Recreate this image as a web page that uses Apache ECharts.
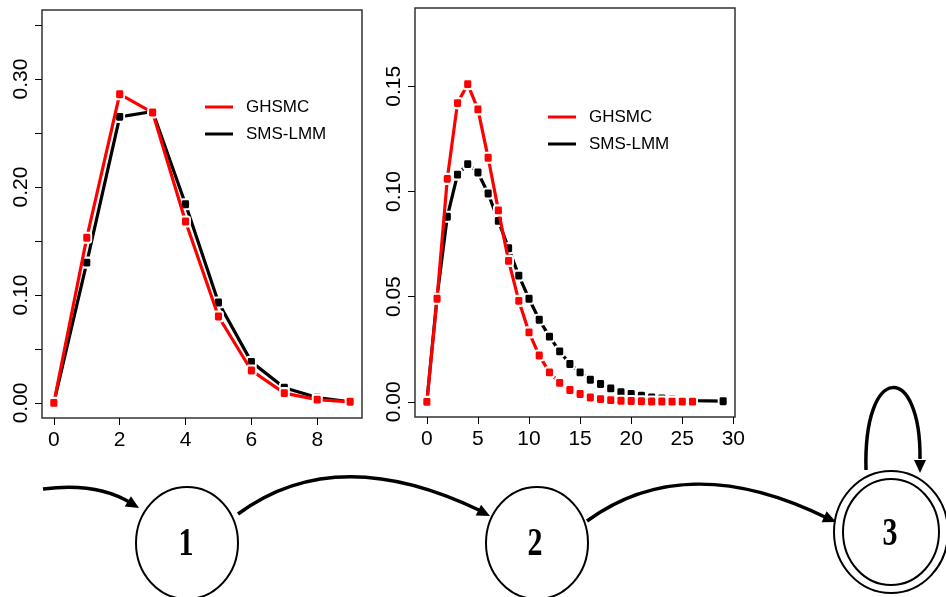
<!DOCTYPE html>
<html><head><meta charset="utf-8">
<script src="https://cdn.jsdelivr.net/npm/echarts@6/dist/echarts.min.js"></script>
<style>html,body{margin:0;padding:0;background:#fff}#c{width:946px;height:597px}</style>
</head><body><div id="c"></div>
<script>
// ---- data ----
const seriesNames = ['GHSMC', 'SMS-LMM'];
const leftX = [0, 1, 2, 3, 4, 5, 6, 7, 8, 9];
const leftGHSMC = [0.000, 0.153, 0.286, 0.269, 0.168, 0.080, 0.030, 0.009, 0.003, 0.001];
const leftSMSLMM = [0.000, 0.130, 0.265, 0.270, 0.184, 0.093, 0.038, 0.014, 0.005, 0.001];
const rightXGHSMC = [0,1,2,3,4,5,6,7,8,9,10,11,12,13,14,15,16,17,18,19,20,21,22,23,24,25,26];
const rightGHSMC = [0.000,0.049,0.106,0.142,0.151,0.139,0.116,0.091,0.067,0.048,0.033,0.022,0.014,0.009,0.0056,0.0037,0.0021,0.0013,0.0008,0.0005,0.0004,0.0003,0.0002,0.0002,0.0001,0.0001,0.0001];
const rightXSMSLMM = [0,1,2,3,4,5,6,7,8,9,10,11,12,13,14,15,16,17,18,19,20,21,22,23,24,25,26,29];
const rightSMSLMM = [0.000,0.050,0.088,0.108,0.113,0.109,0.099,0.086,0.073,0.060,0.049,0.039,0.031,0.024,0.018,0.014,0.0105,0.0085,0.0064,0.0046,0.0037,0.0029,0.0021,0.0016,0.0011,0.0008,0.0006,0.0003];
const leftXTicks = [0, 2, 4, 6, 8];
const leftYTicks = [0, 0.05, 0.10, 0.15, 0.20, 0.25, 0.30, 0.35];
const leftYLabels = [0, 0.10, 0.20, 0.30];
const rightXTicks = [0, 5, 10, 15, 20, 25, 30];
const rightYTicks = [0, 0.05, 0.10, 0.15];
const stateLabels = ['1', '2', '3'];

const FONT = "'Liberation Sans', Arial, sans-serif";
const RED = '#ff0000', BLACK = '#000000';

function xAxisDef(gi, min, max, ticks) {
  return {
    type: 'value', gridIndex: gi, min: min, max: max,
    axisLine: { show: false, onZero: false },
    splitLine: { show: false },
    axisTick: { show: true, length: 7, customValues: ticks, lineStyle: { color: '#000', width: 1 } },
    axisLabel: { customValues: ticks, margin: 12, color: '#000', fontSize: 21, fontFamily: FONT }
  };
}
function yAxisDef(gi, min, max, ticks, labels) {
  return {
    type: 'value', gridIndex: gi, min: min, max: max,
    axisLine: { show: false, onZero: false },
    splitLine: { show: false },
    axisTick: { show: true, length: 7, customValues: ticks, lineStyle: { color: '#000', width: 1 } },
    axisLabel: { customValues: labels, rotate: 90, margin: 10, color: '#000', fontSize: 21, fontFamily: FONT,
      formatter: v => Number(v).toFixed(2) }
  };
}
function lineSeries(name, color, xi, yi, xs, ys, z) {
  return {
    type: 'line', name: name, xAxisIndex: xi, yAxisIndex: yi, z: z,
    data: xs.map((x, i) => [x, ys[i]]),
    symbol: 'roundRect', symbolSize: [9, 10], showSymbol: true,
    lineStyle: { color: color, width: 3.2 },
    itemStyle: { color: color, borderColor: '#fff', borderWidth: 2 },
    animation: false
  };
}
function legendDef(left, top) {
  return {
    left: left, top: top, orient: 'vertical', data: seriesNames, icon: 'rect',
    itemWidth: 28, itemHeight: 3, itemGap: 5, selectedMode: false,
    itemStyle: { borderWidth: 0 },
    textStyle: { fontSize: 17, fontFamily: FONT, color: '#000', padding: [0, 0, 0, 8], lineHeight: 22 }
  };
}

// ---- diagram pieces ----
const LW = 3.5;
function arrowHead(tipX, tipY, dx, dy, len, half) {
  const n = Math.hypot(dx, dy); const ux = dx / n, uy = dy / n;
  const bx = tipX - ux * len, by = tipY - uy * len;
  return { type: 'polygon', shape: { points: [[tipX, tipY], [bx - uy * half, by + ux * half], [bx + uy * half, by - ux * half]] },
    style: { fill: '#000' }, z: 100 };
}
function curve(x1, y1, c1x, c1y, c2x, c2y, x2, y2) {
  return { type: 'bezierCurve', shape: { x1: x1, y1: y1, cpx1: c1x, cpy1: c1y, cpx2: c2x, cpy2: c2y, x2: x2, y2: y2 },
    style: { stroke: '#000', lineWidth: LW, fill: null }, z: 100 };
}
function ellipse(cx, cy, rx, ry, w) {
  return { type: 'ellipse', shape: { cx: cx, cy: cy, rx: rx, ry: ry }, style: { stroke: '#000', lineWidth: w, fill: null }, z: 100 };
}
function stateText(t, x, y) {
  return { type: 'text', x: x, y: y, scaleX: 0.75, z: 101,
    style: { text: t, font: "bold 40px 'Liberation Serif', 'Times New Roman', serif", fill: '#000', align: 'center', verticalAlign: 'middle' } };
}

const graphics = [
  ellipse(187, 543, 51, 56, 2),
  ellipse(537, 543, 51, 56, 2),
  ellipse(891, 532, 57, 61, 2),
  ellipse(891, 532, 48, 53, 2),
  stateText(stateLabels[0], 186, 545),
  stateText(stateLabels[1], 535, 545),
  stateText(stateLabels[2], 890, 535),
  curve(43, 489, 80, 484, 110, 490, 131, 503),
  arrowHead(139, 508, 1, 0.6, 13, 6),
  curve(238, 514, 300, 468, 380, 462, 481, 511),
  arrowHead(490, 516, 1, 0.5, 13, 6),
  curve(587, 521, 650, 475, 730, 470, 827, 518),
  arrowHead(836, 522, 1, 0.45, 13, 6),
  curve(866, 470, 863, 362, 921, 362, 920, 459),
  arrowHead(920, 473, 0, 1, 13, 6)
];

const chart = echarts.init(document.getElementById('c'), null, { renderer: 'canvas' });
chart.setOption({
  animation: false,
  backgroundColor: '#fff',
  grid: [
    { left: 42, top: 10, width: 320, height: 408, show: true, borderColor: '#333', borderWidth: 1.5, backgroundColor: 'transparent' },
    { left: 415, top: 8, width: 320, height: 409, show: true, borderColor: '#333', borderWidth: 1.5, backgroundColor: 'transparent' }
  ],
  xAxis: [
    xAxisDef(0, -0.36, 9.36, leftXTicks),
    xAxisDef(1, -1.16, 30.16, rightXTicks)
  ],
  yAxis: [
    yAxisDef(0, -0.014, 0.364, leftYTicks, leftYLabels),
    yAxisDef(1, -0.0072, 0.1872, rightYTicks, rightYTicks)
  ],
  legend: [legendDef(200, 91), legendDef(543, 101)],
  series: [
    lineSeries(seriesNames[1], BLACK, 0, 0, leftX, leftSMSLMM, 2),
    lineSeries(seriesNames[0], RED, 0, 0, leftX, leftGHSMC, 3),
    lineSeries(seriesNames[1], BLACK, 1, 1, rightXSMSLMM, rightSMSLMM, 2),
    lineSeries(seriesNames[0], RED, 1, 1, rightXGHSMC, rightGHSMC, 3)
  ],
  graphic: graphics
});
</script></body></html>
